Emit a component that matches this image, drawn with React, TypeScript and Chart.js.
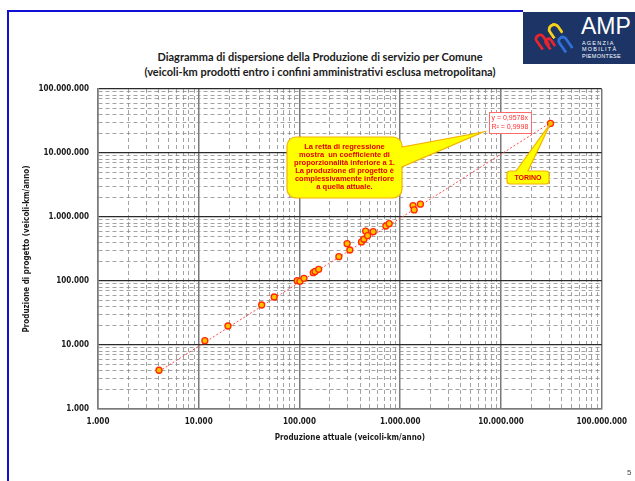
import { useEffect, useRef } from "react";
import { Chart, registerables } from "chart.js";

Chart.register(...registerables);

// Produzione per Comune (veicoli-km/anno): attuale vs di progetto
const produzioneAttuale = [
  4030, 11500, 19500, 42100, 56100, 94900, 101000, 110700, 137000, 143000,
  155000, 246000, 297000, 316000, 413000, 436000, 453000, 474000, 539000,
  720000, 777000, 1340000, 1374000, 1585000, 31000000,
];
const produzioneProgetto = [
  4030, 11700, 19800, 42200, 56200, 101000, 98900, 110000, 135000, 141000,
  152000, 240000, 383000, 305000, 408000, 449000, 603000, 510000, 589000,
  724000, 786000, 1510000, 1288000, 1586000, 29000000,
];
const torinoIndex = produzioneAttuale.length - 1;

// Retta di regressione (intercetta nulla)
const slope = 0.9578;
const rSquared = 0.9998;

// Decadi degli assi logaritmici e multipli per la griglia secondaria
const decades = [1000, 10000, 100000, 1000000, 10000000, 100000000];
const minorMultiples = [2, 3, 4, 5, 6, 7, 8, 9];

const calloutLines = [
  "La retta di regressione",
  "mostra  un coefficiente di",
  "proporzionalità inferiore a 1.",
  "La produzione di progetto è",
  "complessivamente inferiore",
  "a quella attuale.",
];

const gridValues: number[] = [];
decades.forEach((d, i) => {
  gridValues.push(d);
  if (i < decades.length - 1) minorMultiples.forEach((m) => gridValues.push(d * m));
});

const isDecade = (v: number) => Math.abs(Math.log10(v) - Math.round(Math.log10(v))) < 1e-9;
const fmt = (v: number) => Math.round(v).toString().replace(/\B(?=(\d{3})+(?!\d))/g, ".");
const fmtComma = (v: number) => v.toString().replace(".", ",");

const tickFont = { family: "'DejaVu Sans Condensed', 'DejaVu Sans', sans-serif", size: 8, weight: "bold" as const };

function roundedCalloutPath(
  ctx: CanvasRenderingContext2D,
  x0: number, y0: number, x1: number, y1: number, r: number,
  side: "right" | "top", a: number, b: number, tipX: number, tipY: number
) {
  ctx.beginPath();
  ctx.moveTo(x0 + r, y0);
  if (side === "top") {
    ctx.lineTo(a, y0);
    ctx.lineTo(tipX, tipY);
    ctx.lineTo(b, y0);
  }
  ctx.lineTo(x1 - r, y0);
  ctx.arcTo(x1, y0, x1, y0 + r, r);
  if (side === "right") {
    ctx.lineTo(x1, a);
    ctx.lineTo(tipX, tipY);
    ctx.lineTo(x1, b);
  }
  ctx.lineTo(x1, y1 - r);
  ctx.arcTo(x1, y1, x1 - r, y1, r);
  ctx.lineTo(x0 + r, y1);
  ctx.arcTo(x0, y1, x0, y1 - r, r);
  ctx.lineTo(x0, y0 + r);
  ctx.arcTo(x0, y0, x0 + r, y0, r);
  ctx.closePath();
}

const annotationsPlugin = {
  id: "annotazioni",
  afterDatasetsDraw(chart: any) {
    const ctx: CanvasRenderingContext2D = chart.ctx;
    const xs = chart.scales.x;
    const ys = chart.scales.y;
    ctx.save();

    // Etichetta equazione della retta
    const ex0 = 489, ey0 = 112, ex1 = 532, ey1 = 134;
    ctx.fillStyle = "#ffffff";
    ctx.fillRect(ex0, ey0, ex1 - ex0, ey1 - ey0);
    ctx.strokeStyle = "#ff6a6a";
    ctx.lineWidth = 1;
    ctx.strokeRect(ex0 + 0.5, ey0 + 0.5, ex1 - ex0 - 1, ey1 - ey0 - 1);
    ctx.fillStyle = "#ff3030";
    ctx.font = "7px 'Liberation Sans', Arial, sans-serif";
    ctx.textAlign = "left";
    ctx.textBaseline = "middle";
    ctx.fillText(`y = ${fmtComma(slope)}x`, ex0 + 2.5, ey0 + 6.5);
    ctx.fillText(`R² = ${fmtComma(rSquared)}`, ex0 + 2.5, ey0 + 15.5);

    // Nota sulla regressione
    roundedCalloutPath(ctx, 287, 137, 402, 198, 9, "right", 147, 167, 483, 132);
    ctx.fillStyle = "#ffff00";
    ctx.fill();
    ctx.strokeStyle = "#f2b200";
    ctx.lineWidth = 1.2;
    ctx.stroke();
    ctx.fillStyle = "#e00000";
    ctx.font = "bold 7.5px 'Liberation Sans', Arial, sans-serif";
    ctx.textAlign = "center";
    calloutLines.forEach((line, i) => ctx.fillText(line, 344.5, 147 + i * 7.9));

    // Nota TORINO
    const tx = xs.getPixelForValue(produzioneAttuale[torinoIndex]);
    const ty = ys.getPixelForValue(produzioneProgetto[torinoIndex]);
    roundedCalloutPath(ctx, 507, 171, 549, 184, 3, "top", 516, 528, tx, ty);
    ctx.fillStyle = "#ffff00";
    ctx.fill();
    ctx.strokeStyle = "#f2b200";
    ctx.lineWidth = 1.2;
    ctx.stroke();
    ctx.fillStyle = "#e00000";
    ctx.font = "bold 7px 'Liberation Sans', Arial, sans-serif";
    ctx.fillText("TORINO", 528, 178);

    ctx.restore();
  },
};

function gridOptions(majorColor: string, majorWidth: number) {
  return {
    drawTicks: false,
    color: (c: any) => (c.tick && isDecade(c.tick.value) ? majorColor : "#8c8c8c"),
    lineWidth: (c: any) => (c.tick && isDecade(c.tick.value) ? majorWidth : 0.8),
  };
}

function ScatterChart() {
  const canvasRef = useRef<HTMLCanvasElement | null>(null);

  useEffect(() => {
    if (!canvasRef.current) return;
    const xMin = Math.min(...produzioneAttuale);
    const xMax = Math.max(...produzioneAttuale);
    const chart = new Chart(canvasRef.current, {
      type: "scatter",
      data: {
        datasets: [
          {
            data: produzioneAttuale.map((x, i) => ({ x, y: produzioneProgetto[i] })),
            pointStyle: "circle",
            pointRadius: 3,
            pointBackgroundColor: "#ffc000",
            pointBorderColor: "#ff2a00",
            pointBorderWidth: 1.3,
            showLine: false,
          },
          {
            type: "line",
            data: [
              { x: xMin, y: slope * xMin },
              { x: xMax, y: slope * xMax },
            ],
            borderColor: "#ff4a4a",
            borderWidth: 1,
            borderDash: [2, 2],
            pointRadius: 0,
            fill: false,
          } as any,
        ],
      },
      options: {
        animation: false,
        responsive: false,
        maintainAspectRatio: false,
        layout: { padding: { left: 18, top: 89, right: 33, bottom: 34 } },
        plugins: { legend: { display: false }, tooltip: { enabled: false } },
        scales: {
          x: {
            type: "logarithmic",
            min: 1000,
            max: 100000000,
            afterBuildTicks: (s: any) => {
              s.ticks = gridValues.map((value) => ({ value }));
            },
            afterFit: (s: any) => {
              s.height = 38;
            },
            ticks: {
              autoSkip: false,
              maxRotation: 0,
              padding: 8,
              color: "#1a1a1a",
              font: tickFont,
              callback: (v: any) => (isDecade(Number(v)) ? fmt(Number(v)) : ""),
            },
            grid: gridOptions("#7a7a7a", 1.5),
            border: {
              display: true,
              color: "#7a7a7a",
              width: 1.5,
              dash: (c: any) => (c.tick && !isDecade(c.tick.value) ? [4, 3] : []),
            },
            title: {
              display: true,
              text: "Produzione attuale (veicoli-km/anno)",
              color: "#1a1a1a",
              font: tickFont,
            },
          },
          y: {
            type: "logarithmic",
            min: 1000,
            max: 100000000,
            afterBuildTicks: (s: any) => {
              s.ticks = gridValues.map((value) => ({ value }));
            },
            afterFit: (s: any) => {
              s.width = 80;
            },
            ticks: {
              autoSkip: false,
              padding: 9,
              color: "#1a1a1a",
              font: tickFont,
              callback: (v: any) => (isDecade(Number(v)) ? fmt(Number(v)) : ""),
            },
            grid: gridOptions("#2a2a2a", 1.2),
            border: {
              display: true,
              color: "#7a7a7a",
              width: 1.5,
              dash: (c: any) => (c.tick && !isDecade(c.tick.value) ? [4, 3] : []),
            },
            title: {
              display: true,
              text: "Produzione di progetto (veicoli-km/anno)",
              color: "#1a1a1a",
              font: tickFont,
            },
          },
        },
      },
      plugins: [annotationsPlugin],
    });
    return () => chart.destroy();
  }, []);

  return (
    <canvas
      ref={canvasRef}
      width={635}
      height={481}
      style={{ position: "absolute", left: 0, top: 0, width: 635, height: 481 }}
    />
  );
}

function Logo() {
  const arch = (color: string, left: number, top: number, w: number, h: number, rot: number) => (
    <div
      style={{
        position: "absolute",
        left,
        top,
        width: w,
        height: h,
        border: `3px solid ${color}`,
        borderBottom: "none",
        borderRadius: "7px 7px 0 0",
        transform: `rotate(${rot}deg)`,
        boxSizing: "border-box",
      }}
    />
  );
  return (
    <div
      style={{
        position: "absolute",
        left: 523,
        top: 12,
        width: 112,
        height: 52,
        background: "#1c3566",
        overflow: "hidden",
      }}
    >
      {arch("#e8242c", 13, 21, 11, 16, -35)}
      {arch("#e8242c", 22, 25, 9, 12, -35)}
      {arch("#f7d117", 25, 11, 13, 14, -35)}
      {arch("#2f6fd6", 36, 23, 11, 17, -35)}
      <div
        style={{
          position: "absolute",
          left: 58,
          top: 1,
          color: "#ffffff",
          fontFamily: "'Liberation Sans Narrow', 'Liberation Sans', Arial, sans-serif",
          fontSize: 23,
          lineHeight: "26px",
        }}
      >
        AMP
      </div>
      <div
        style={{
          position: "absolute",
          left: 59,
          top: 28,
          color: "#ffffff",
          fontFamily: "'Liberation Sans', Arial, sans-serif",
          fontSize: 5.5,
          lineHeight: "6.3px",
          letterSpacing: 1.2,
        }}
      >
        <div>AGENZIA</div>
        <div>MOBILITÀ</div>
        <div style={{ letterSpacing: 0.3 }}>PIEMONTESE</div>
      </div>
    </div>
  );
}

export default function App() {
  return (
    <div
      style={{
        position: "absolute",
        left: 0,
        top: 0,
        width: 635,
        height: 481,
        overflow: "hidden",
        background: "#ffffff",
      }}
    >
      <div style={{ position: "absolute", left: 7, top: 10, width: 516, height: 2, background: "#1010d0" }} />
      <div style={{ position: "absolute", left: 7, top: 10, width: 2, height: 471, background: "#1010d0" }} />
      <Logo />
      <div
        style={{
          position: "absolute",
          left: 0,
          top: 49,
          width: 640,
          textAlign: "center",
          fontFamily: "Lato, 'Open Sans', sans-serif",
          fontWeight: "bold",
          fontSize: 11,
          lineHeight: "15px",
          color: "#1a1a1a",
        }}
      >
        <div>Diagramma di dispersione della Produzione di servizio per Comune</div>
        <div>(veicoli-km prodotti entro i confini amministrativi esclusa metropolitana)</div>
      </div>
      <ScatterChart />
      <div
        style={{
          position: "absolute",
          left: 627,
          top: 468,
          fontFamily: "'Liberation Sans', Arial, sans-serif",
          fontSize: 8,
          color: "#444",
        }}
      >
        5
      </div>
    </div>
  );
}
